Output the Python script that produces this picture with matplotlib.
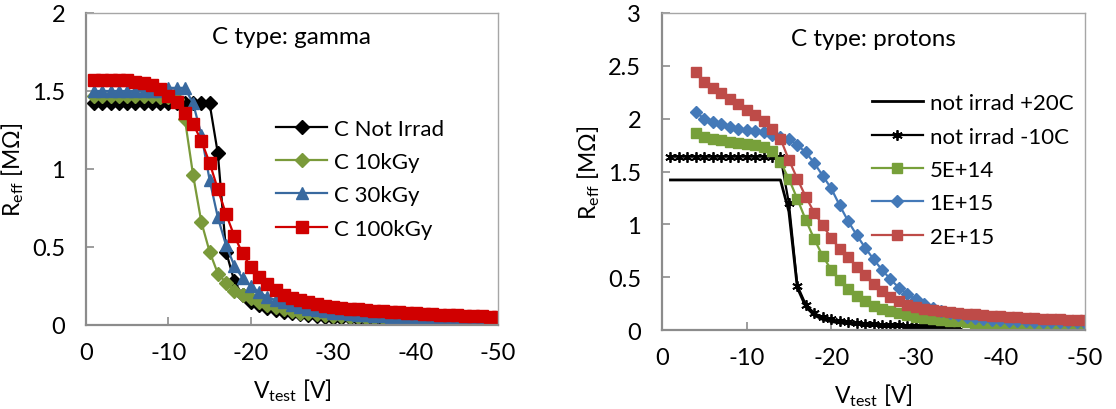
import numpy as np
import matplotlib
matplotlib.use("Agg")
import matplotlib.pyplot as plt

plt.rcParams['font.family'] = ['Lato', 'DejaVu Sans']
plt.rcParams['mathtext.fontset'] = 'custom'
plt.rcParams['mathtext.rm'] = 'Lato'

# ---------------- Left panel: C type, gamma ----------------
v_gamma = list(range(-1, -51, -1))

r_not_irrad = [1.42]*15 + [1.10, 0.47, 0.28, 0.19, 0.15, 0.13, 0.11, 0.095, 0.085, 0.075,
               0.068, 0.062, 0.057, 0.052, 0.048, 0.045, 0.043, 0.041, 0.039, 0.037,
               0.035, 0.034, 0.032, 0.031, 0.030, 0.029, 0.028, 0.027, 0.026, 0.025,
               0.024, 0.023, 0.022, 0.021, 0.020]
r_10kgy = [1.47, 1.47, 1.47, 1.47, 1.47, 1.47, 1.47, 1.47, 1.46, 1.46, 1.45,
           1.32, 0.96, 0.66, 0.47, 0.33, 0.27, 0.22, 0.19, 0.17, 0.15, 0.13, 0.115,
           0.10, 0.09, 0.08, 0.075, 0.068, 0.063, 0.058, 0.055, 0.052, 0.050, 0.048,
           0.046, 0.044, 0.042, 0.040, 0.038, 0.036, 0.035, 0.034, 0.033, 0.032,
           0.031, 0.030, 0.029, 0.028, 0.026, 0.025]
r_30kgy = [1.50, 1.50, 1.50, 1.50, 1.50, 1.50, 1.50, 1.50, 1.50, 1.52, 1.52, 1.52,
           1.42, 1.22, 0.93, 0.69, 0.51, 0.38, 0.30, 0.25, 0.21, 0.18, 0.16, 0.145,
           0.13, 0.115, 0.105, 0.095, 0.087, 0.080, 0.074, 0.069, 0.065, 0.061,
           0.058, 0.055, 0.052, 0.050, 0.047, 0.045, 0.043, 0.042, 0.040, 0.039,
           0.037, 0.036, 0.035, 0.033, 0.032, 0.030]
r_100kgy = [1.57, 1.57, 1.57, 1.57, 1.57, 1.56, 1.55, 1.54, 1.51, 1.47, 1.43, 1.36,
            1.29, 1.18, 1.04, 0.87, 0.71, 0.57, 0.46, 0.37, 0.31, 0.26, 0.225, 0.195,
            0.175, 0.16, 0.145, 0.135, 0.125, 0.118, 0.11, 0.105, 0.10, 0.096, 0.092,
            0.088, 0.085, 0.082, 0.078, 0.075, 0.072, 0.070, 0.067, 0.065, 0.062,
            0.060, 0.058, 0.055, 0.052, 0.050]

gamma_labels = ['C Not Irrad', 'C 10kGy', 'C 30kGy', 'C 100kGy']

# ---------------- Right panel: C type, protons ----------------
v_ref = list(range(-1, -36, -1))
r_20c = [1.42]*14 + [1.12, 0.40, 0.22, 0.14, 0.10, 0.08, 0.068, 0.06, 0.054, 0.049,
         0.045, 0.041, 0.038, 0.035, 0.033, 0.031, 0.029, 0.027, 0.025, 0.023, 0.022]
r_m10c = [1.64]*14 + [1.20, 0.42, 0.24, 0.16, 0.12, 0.10, 0.085, 0.075, 0.066, 0.060,
          0.055, 0.051, 0.048, 0.045, 0.042, 0.040, 0.038, 0.036, 0.034, 0.032, 0.030]

v_prot = list(range(-4, -51, -1))
r_5e14 = [1.86, 1.83, 1.81, 1.80, 1.78, 1.77, 1.76, 1.75, 1.73, 1.69, 1.59, 1.43,
          1.24, 1.04, 0.86, 0.70, 0.57, 0.47, 0.39, 0.32, 0.27, 0.23, 0.20, 0.18,
          0.16, 0.14, 0.125, 0.115, 0.105, 0.095, 0.088, 0.082, 0.076, 0.070,
          0.066, 0.062, 0.058, 0.055, 0.052, 0.050, 0.048, 0.046, 0.044, 0.043,
          0.042, 0.041, 0.040]
r_1e15 = [2.06, 2.00, 1.97, 1.95, 1.92, 1.90, 1.89, 1.88, 1.87, 1.85, 1.83, 1.81,
          1.75, 1.68, 1.58, 1.46, 1.34, 1.18, 1.03, 0.90, 0.78, 0.67, 0.57, 0.48,
          0.40, 0.34, 0.29, 0.25, 0.21, 0.18, 0.16, 0.14, 0.125, 0.115, 0.105,
          0.097, 0.090, 0.087, 0.084, 0.082, 0.080, 0.078, 0.076, 0.074, 0.072,
          0.071, 0.070]
r_2e15 = [2.44, 2.35, 2.29, 2.24, 2.19, 2.14, 2.08, 2.03, 1.98, 1.90, 1.81, 1.61,
          1.43, 1.26, 1.11, 0.99, 0.87, 0.77, 0.69, 0.60, 0.52, 0.44, 0.37, 0.31,
          0.27, 0.24, 0.22, 0.20, 0.19, 0.18, 0.17, 0.16, 0.155, 0.15, 0.14, 0.135,
          0.13, 0.125, 0.12, 0.115, 0.11, 0.107, 0.104, 0.10, 0.097, 0.094, 0.09]

proton_labels = ['not irrad +20C', 'not irrad -10C', '5E+14', '1E+15', '2E+15']

# ---------------- Figure ----------------
fig = plt.figure(figsize=(11.16, 4.10), dpi=100)
axL = fig.add_axes([86/1116, 1-326/410, (498-86)/1116, (326-14)/410])
axR = fig.add_axes([662/1116, 1-331/410, (1085-662)/1116, (331-14)/410])

frame_col = '#A6A6A6'
axis_col = '#8C8C8C'
lw = 1.6

def style(ax, ymax, yticks):
    ax.set_xlim(0, -50)
    ax.set_ylim(0, ymax)
    ax.set_xticks([0, -10, -20, -30, -40, -50])
    ax.set_xticklabels(['0', '-10', '-20', '-30', '-40', '-50'])
    ax.set_yticks(yticks)
    ax.set_yticklabels([('%g' % t) for t in yticks])
    for s in ax.spines.values():
        s.set_color(frame_col)
        s.set_linewidth(1.0)
    ax.spines['left'].set_color(axis_col)
    ax.spines['bottom'].set_color(axis_col)
    ax.spines['left'].set_linewidth(1.6)
    ax.spines['bottom'].set_linewidth(1.6)
    ax.tick_params(axis='both', direction='in', length=6, width=1.2,
                   color=axis_col, labelsize=17, labelcolor='black')
    ax.tick_params(axis='x', pad=12)
    ax.tick_params(axis='y', pad=15)
    ax.set_xlabel(r'V$_{\mathregular{test}}$ [V]', fontsize=16.5, labelpad=10)
    ax.set_ylabel(r'R$_{\mathregular{eff}}$ [MΩ]', fontsize=16.5, labelpad=4)

# Left
axL.plot(v_gamma, r_not_irrad, color='black', marker='D', ms=7.2, lw=lw, label=gamma_labels[0])
axL.plot(v_gamma, r_10kgy, color='#7A9A3A', marker='D', ms=7.2, lw=lw, label=gamma_labels[1])
axL.plot(v_gamma, r_30kgy, color='#38699F', marker='^', ms=9, lw=lw, label=gamma_labels[2])
axL.plot(v_gamma, r_100kgy, color='#D00000', marker='s', ms=8, lw=lw, label=gamma_labels[3])
style(axL, 2, [0, 0.5, 1, 1.5, 2])
axL.text(0.5, 0.925, 'C type: gamma', transform=axL.transAxes, ha='center', va='center',
         fontsize=17.5)
axL.legend(loc='upper left', bbox_to_anchor=(0.44, 0.69), frameon=False, fontsize=16,
           handlelength=2.3, handletextpad=0.3, labelspacing=0.6, borderaxespad=0)

# Right
axR.plot(v_ref, r_20c, color='black', lw=2.0, label=proton_labels[0])
axR.plot(v_ref, r_m10c, color='black', marker=(6, 2, 0), ms=7.5, mew=1.3, lw=lw, label=proton_labels[1])
axR.plot(v_prot, r_5e14, color='#77A03A', marker='s', ms=6.8, lw=lw, label=proton_labels[2])
axR.plot(v_prot, r_1e15, color='#4479B8', marker='D', ms=6.3, lw=lw, label=proton_labels[3])
axR.plot(v_prot, r_2e15, color='#BE4B48', marker='s', ms=6.8, lw=lw, label=proton_labels[4])
style(axR, 3, [0, 0.5, 1, 1.5, 2, 2.5, 3])
axR.text(0.5, 0.918, 'C type: protons', transform=axR.transAxes, ha='center', va='center',
         fontsize=17.5)
axR.legend(loc='upper left', bbox_to_anchor=(0.475, 0.775), frameon=False, fontsize=16,
           handlelength=2.3, handletextpad=0.3, labelspacing=0.6, borderaxespad=0)

fig.savefig('out.png', dpi=100)
